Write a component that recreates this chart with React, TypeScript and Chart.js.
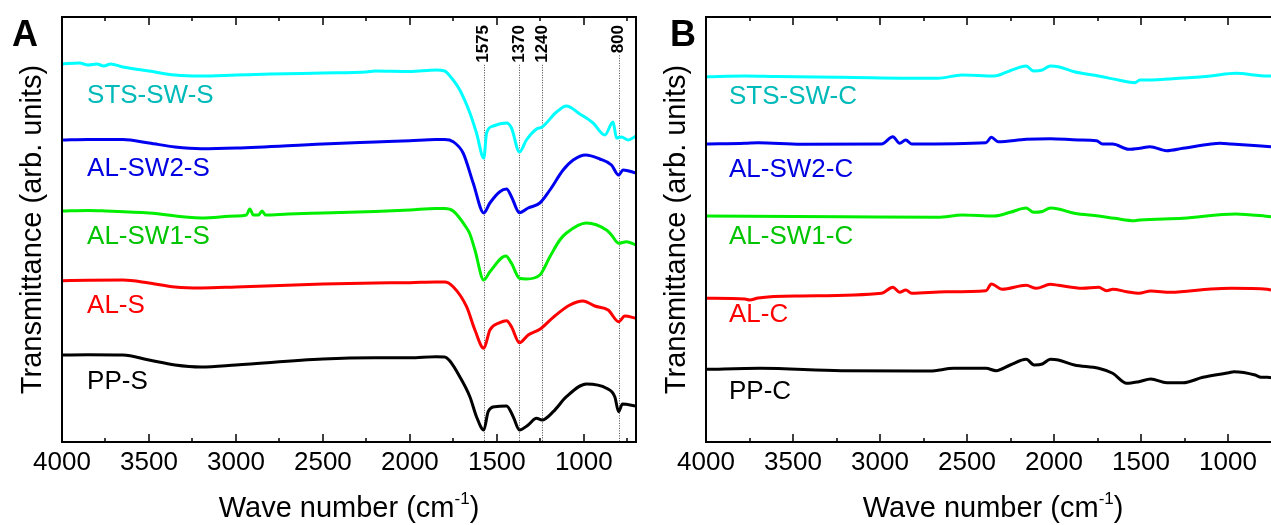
import React, { useEffect, useRef } from "react";
import { Chart, registerables } from "chart.js";
Chart.register(...registerables);

const FONT = '"Liberation Sans", Arial, Helvetica, sans-serif';

const MAJOR_TICKS = [4000, 3500, 3000, 2500, 2000, 1500, 1000];
const MINOR_TICKS = [3750, 3250, 2750, 2250, 1750, 1250, 750];
const PEAKS = [1575, 1370, 1240, 800];

const NAMES_A = ["STS-SW-S", "AL-SW2-S", "AL-SW1-S", "AL-S", "PP-S"];
const NAMES_B = ["STS-SW-C", "AL-SW2-C", "AL-SW1-C", "AL-C", "PP-C"];
const LINE_COLORS = ["#00FFFF", "#0000F0", "#00EE00", "#FF0000", "#000000"];
const LABEL_COLORS = ["#00BABA", "#0000E0", "#00C400", "#FF0000", "#000000"];
const LABEL_T_A = [346, 273, 205, 136, 60];
const LABEL_T_B = [345, 272, 205, 127, 50];

// ---- Panel A (S samples) ----
const A_STS_WN = [4000, 3900, 3850, 3800, 3760, 3720, 3650, 3500, 3350, 3200, 3000, 2800, 2500, 2250, 2200, 2000, 1850, 1800, 1770, 1713, 1655, 1617, 1575, 1559, 1521, 1444, 1416, 1370, 1330, 1272, 1240, 1157, 1100, 1023, 947, 879, 832, 812, 783, 745, 700];
const A_STS_T = [378, 379, 377, 378, 376, 378, 375, 371, 367, 366, 367, 368, 369, 370, 371, 370.5, 372, 371, 366, 352, 329, 309, 284, 309, 316, 319, 314, 290, 302, 313, 315, 330, 336, 328, 319, 307, 320, 304, 305, 302, 306];

const A_SW2_WN = [4000, 3850, 3650, 3500, 3350, 3200, 3000, 2500, 2200, 2000, 1850, 1800, 1751, 1694, 1636, 1575, 1540, 1483, 1444, 1416, 1370, 1320, 1253, 1195, 1119, 1061, 989, 908, 841, 800, 774, 700];
const A_SW2_T = [302, 302.5, 302.5, 299, 295, 293.3, 294, 298, 300, 301.3, 302.5, 302.5, 300.3, 289, 259, 229, 239, 250.3, 253, 245.3, 229.3, 234, 239, 252, 272, 282, 287, 283, 277, 267, 272, 269];

const A_SW1_WN = [4000, 3850, 3750, 3500, 3200, 3000, 2940, 2920, 2900, 2870, 2850, 2830, 2700, 2500, 2200, 2000, 1850, 1800, 1751, 1674, 1655, 1626, 1575, 1540, 1448, 1416, 1370, 1330, 1253, 1195, 1138, 1100, 985, 870, 841, 800, 755, 700];
const A_SW1_T = [231, 231.5, 231, 229, 224, 226, 227, 233, 227, 227, 231, 227, 228, 229, 230.5, 232, 233.5, 233.5, 231, 214, 208, 192, 162, 170.3, 186, 178.7, 163.7, 163, 167, 185.3, 202, 209, 219, 212, 207, 198.7, 200.3, 197];

const A_AL_WN = [4000, 3850, 3650, 3500, 3350, 3200, 3000, 2500, 2200, 2000, 1850, 1800, 1751, 1674, 1626, 1575, 1540, 1483, 1444, 1416, 1370, 1320, 1253, 1176, 1080, 1004, 937, 860, 800, 764, 700];
const A_AL_T = [161.3, 161.8, 162, 159, 155, 154, 155, 158, 159, 159.3, 160, 160, 155.3, 135.3, 112, 93.7, 112, 119.3, 121.3, 115.3, 99.3, 107, 112.7, 124.7, 137, 141, 136, 132, 120.3, 126, 123.7];

const A_PP_WN = [4000, 3850, 3650, 3500, 3350, 3200, 3000, 2500, 2200, 2000, 1850, 1800, 1770, 1713, 1655, 1617, 1575, 1550, 1511, 1444, 1406, 1370, 1320, 1272, 1240, 1176, 1100, 985, 870, 822, 800, 778, 700];
const A_PP_T = [87, 87.3, 87, 82, 77, 75, 77, 83, 84.3, 84.3, 85.3, 85, 81, 65.3, 45.3, 25.3, 12, 30.3, 35.3, 36, 25.3, 12, 17, 23.7, 22, 30.3, 45.3, 58, 53.7, 45.3, 30.3, 38, 36];

// ---- Panel B (C samples) ----
const B_STS_WN = [4000, 3776, 3600, 3222, 2668, 2529, 2344, 2252, 2160, 2118, 2067, 2021, 1975, 1883, 1744, 1629, 1536, 1506, 1467, 1259, 1100, 957, 774, 753];
const B_STS_T = [365.3, 366, 365.5, 364.7, 363.7, 367, 366, 371.3, 376, 371, 372, 376, 375.3, 370.3, 366, 362, 359.3, 362, 362, 364, 366, 368.7, 366, 366];

const B_SW2_WN = [4000, 3776, 3700, 3453, 2991, 2926, 2887, 2852, 2818, 2391, 2360, 2321, 2160, 2021, 1860, 1756, 1721, 1663, 1571, 1506, 1448, 1353, 1259, 1098, 1046, 982, 753];
const B_SW2_T = [298, 298.7, 299.3, 297.7, 298, 305.3, 298.7, 302, 298, 299.3, 304.7, 300.3, 302.7, 303.3, 302, 301.3, 298, 298, 292.7, 293.7, 295.3, 291.3, 293.7, 298, 298.7, 298, 295.3];

const B_SW1_WN = [4000, 3222, 2668, 2529, 2344, 2252, 2160, 2118, 2067, 2021, 1975, 1883, 1744, 1652, 1536, 1506, 1259, 957, 753];
const B_SW1_T = [226, 225.3, 224.7, 227, 226, 229.7, 234, 229.7, 230.5, 234, 233, 228.7, 226, 223.7, 221.3, 222, 223.7, 228, 225.3];

const B_AL_WN = [4000, 3776, 3750, 3700, 3453, 2991, 2926, 2887, 2852, 2818, 2622, 2391, 2360, 2298, 2160, 2102, 2021, 1975, 1837, 1744, 1698, 1663, 1582, 1513, 1444, 1329, 1098, 982, 774, 753];
const B_AL_T = [143.7, 143, 142, 144, 146, 148.7, 154.7, 149.7, 152, 148.7, 150.3, 151.3, 158, 152.7, 156.7, 153.7, 157.7, 156.7, 153.7, 154.7, 151.3, 152.7, 150.3, 148.7, 151, 149.7, 153, 153.7, 152.7, 152];

const B_PP_WN = [4000, 3690, 3222, 2714, 2575, 2391, 2333, 2252, 2160, 2114, 2067, 2021, 1975, 1883, 1744, 1663, 1582, 1513, 1444, 1352, 1259, 1144, 994, 966, 844, 810, 774, 753];
const B_PP_T = [72.7, 73.7, 71.3, 71, 73.7, 73.7, 71.3, 77, 82.7, 77, 78, 82.7, 82, 77, 73.7, 68.7, 58.7, 60.3, 63, 59.3, 59.3, 64.7, 69.3, 70.3, 67, 64.7, 64.7, 64.3];

type PanelProps = {
  left: number;
  width: number;
  padLeft: number;
  padRight: number;
  xMin: number;
  letter: string;
  letterX: number;
  names: string[];
  wns: number[][];
  ts: number[][];
  labelT: number[];
  labelWn: number;
  peaks: boolean;
  rightBorder: boolean;
};

function Panel(p: PanelProps) {
  const ref = useRef<HTMLCanvasElement | null>(null);
  useEffect(() => {
    const canvas = ref.current;
    if (!canvas) return;
    const datasets = p.names.map((n, i) => ({
      label: n,
      data: p.wns[i].map((w, j) => ({ x: w, y: p.ts[i][j] })),
      borderColor: LINE_COLORS[i],
      backgroundColor: LINE_COLORS[i],
      borderWidth: 3,
      pointRadius: 0,
      tension: 0.4,
      cubicInterpolationMode: "monotone" as const,
      fill: false,
    }));

    const decor = {
      id: "decor",
      beforeDatasetsDraw(chart: any) {
        if (!p.peaks) return;
        const ctx = chart.ctx;
        const xs = chart.scales.x;
        const ca = chart.chartArea;
        ctx.save();
        ctx.font = `bold 17px ${FONT}`;
        ctx.strokeStyle = "#444";
        ctx.lineWidth = 1;
        ctx.setLineDash([1, 1.5]);
        PEAKS.forEach((pk) => {
          const x = Math.round(xs.getPixelForValue(pk)) + 0.5;
          const w = ctx.measureText(String(pk)).width;
          ctx.beginPath();
          ctx.moveTo(x, 25 + w + 2);
          ctx.lineTo(x, ca.bottom);
          ctx.stroke();
        });
        ctx.restore();
      },
      afterDraw(chart: any) {
        const ctx = chart.ctx;
        const xs = chart.scales.x;
        const ys = chart.scales.y;
        const ca = chart.chartArea;
        ctx.save();
        // frame
        ctx.strokeStyle = "#000";
        ctx.lineWidth = 2;
        ctx.setLineDash([]);
        ctx.beginPath();
        ctx.moveTo(ca.left, ca.top);
        ctx.lineTo(ca.left, ca.bottom);
        ctx.moveTo(ca.left - 1, ca.bottom);
        ctx.lineTo(ca.right + (p.rightBorder ? 1 : 0), ca.bottom);
        ctx.moveTo(ca.left - 1, ca.top);
        ctx.lineTo(ca.right + (p.rightBorder ? 1 : 0), ca.top);
        if (p.rightBorder) {
          ctx.moveTo(ca.right, ca.top);
          ctx.lineTo(ca.right, ca.bottom);
        }
        ctx.stroke();
        // inward ticks
        ctx.lineWidth = 1.5;
        const drawTick = (v: number, len: number) => {
          if (v < xs.min || v > xs.max) return;
          const x = Math.round(xs.getPixelForValue(v));
          ctx.beginPath();
          ctx.moveTo(x, ca.bottom);
          ctx.lineTo(x, ca.bottom - len);
          ctx.moveTo(x, ca.top);
          ctx.lineTo(x, ca.top + len);
          ctx.stroke();
        };
        MAJOR_TICKS.forEach((v) => drawTick(v, 8));
        MINOR_TICKS.forEach((v) => drawTick(v, 4));
        // peak labels
        if (p.peaks) {
          ctx.font = `bold 17px ${FONT}`;
          ctx.fillStyle = "#000";
          ctx.textAlign = "right";
          ctx.textBaseline = "middle";
          PEAKS.forEach((pk) => {
            const x = xs.getPixelForValue(pk);
            ctx.save();
            ctx.translate(x, 25);
            ctx.rotate(-Math.PI / 2);
            ctx.fillText(String(pk), 0, 0);
            ctx.restore();
          });
        }
        // series labels
        ctx.font = `26px ${FONT}`;
        ctx.textAlign = "left";
        ctx.textBaseline = "middle";
        p.names.forEach((n, i) => {
          ctx.fillStyle = LABEL_COLORS[i];
          ctx.fillText(n, xs.getPixelForValue(p.labelWn), ys.getPixelForValue(p.labelT[i]));
        });
        // y title
        ctx.fillStyle = "#000";
        ctx.font = `29px ${FONT}`;
        ctx.textAlign = "center";
        ctx.save();
        ctx.translate(ca.left - 29, (ca.top + ca.bottom) / 2);
        ctx.rotate(-Math.PI / 2);
        ctx.fillText("Transmittance (arb. units)", 0, 0);
        ctx.restore();
        // x title with superscript
        const main = "Wave number (cm";
        const sup = "-1";
        const close = ")";
        ctx.font = `29px ${FONT}`;
        const wMain = ctx.measureText(main).width;
        const wClose = ctx.measureText(close).width;
        ctx.font = `17px ${FONT}`;
        const wSup = ctx.measureText(sup).width;
        const total = wMain + wSup + wClose;
        const cx = xs.getPixelForValue(2350);
        const x0 = cx - total / 2;
        const base = 517;
        ctx.textAlign = "left";
        ctx.textBaseline = "alphabetic";
        ctx.font = `29px ${FONT}`;
        ctx.fillText(main, x0, base);
        ctx.font = `17px ${FONT}`;
        ctx.fillText(sup, x0 + wMain, base - 13);
        ctx.font = `29px ${FONT}`;
        ctx.fillText(close, x0 + wMain + wSup, base);
        // panel letter
        ctx.font = `bold 36px ${FONT}`;
        ctx.fillText(p.letter, p.letterX, 46);
        ctx.restore();
      },
    };

    const chart = new Chart(canvas, {
      type: "line",
      data: { datasets },
      options: {
        animation: false,
        responsive: false,
        maintainAspectRatio: false,
        devicePixelRatio: 1,
        layout: { padding: { left: p.padLeft, right: p.padRight, top: 17, bottom: 0 } },
        plugins: { legend: { display: false }, tooltip: { enabled: false } },
        scales: {
          x: {
            type: "linear",
            reverse: true,
            min: p.xMin,
            max: 4000,
            afterBuildTicks: (s: any) => {
              s.ticks = MAJOR_TICKS.map((v) => ({ value: v }));
            },
            afterFit: (s: any) => {
              s.height = 83;
            },
            grid: { display: false },
            border: { display: false },
            ticks: {
              color: "#000",
              font: { family: FONT, size: 26, lineHeight: 1 },
              padding: 0,
              maxRotation: 0,
              autoSkip: false,
              callback: (v: any) => String(v),
            },
          },
          y: {
            type: "linear",
            display: false,
            min: 0,
            max: 425,
          },
        },
      },
      plugins: [decor],
    } as any);
    return () => chart.destroy();
  }, []);
  return (
    <canvas
      ref={ref}
      width={p.width}
      height={525}
      style={{ position: "absolute", left: p.left, top: 0, width: p.width, height: 525 }}
    />
  );
}

export default function App() {
  return (
    <div style={{ position: "absolute", left: 0, top: 0, width: 1271, height: 525, background: "#fff", overflow: "hidden" }}>
      <Panel
        left={0}
        width={640}
        padLeft={62}
        padRight={4}
        xMin={700}
        letter="A"
        letterX={12}
        names={NAMES_A}
        wns={[A_STS_WN, A_SW2_WN, A_SW1_WN, A_AL_WN, A_PP_WN]}
        ts={[A_STS_T, A_SW2_T, A_SW1_T, A_AL_T, A_PP_T]}
        labelT={LABEL_T_A}
        labelWn={3856}
        peaks={true}
        rightBorder={true}
      />
      <Panel
        left={640}
        width={631}
        padLeft={66}
        padRight={0}
        xMin={753}
        letter="B"
        letterX={30}
        names={NAMES_B}
        wns={[B_STS_WN, B_SW2_WN, B_SW1_WN, B_AL_WN, B_PP_WN]}
        ts={[B_STS_T, B_SW2_T, B_SW1_T, B_AL_T, B_PP_T]}
        labelT={LABEL_T_B}
        labelWn={3868}
        peaks={false}
        rightBorder={false}
      />
    </div>
  );
}
